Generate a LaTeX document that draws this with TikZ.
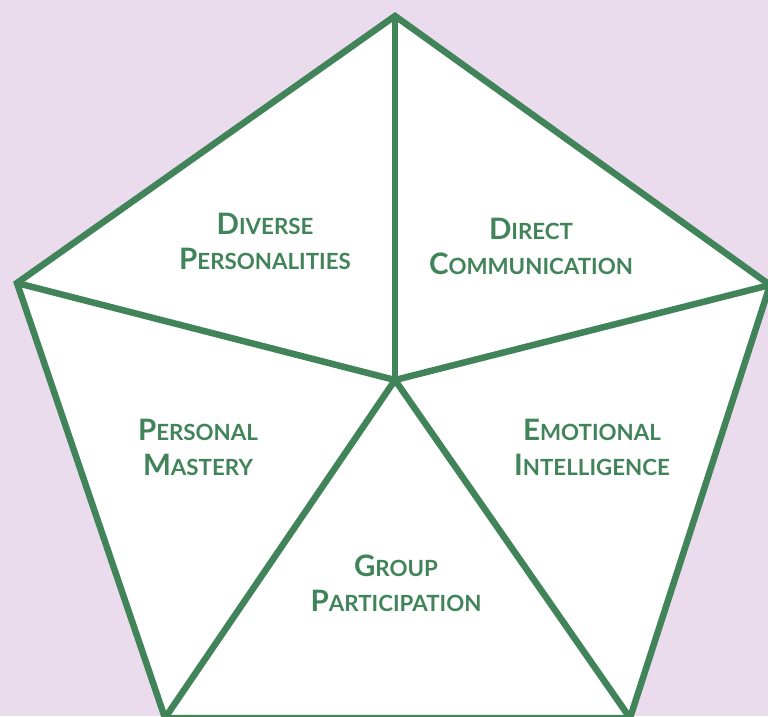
\documentclass[tikz,border=0pt]{standalone}
\usepackage{fontspec}
\setmainfont{Lato}
\definecolor{lavender}{HTML}{EADCEC}
\definecolor{leaf}{HTML}{41845A}
% hand-made small caps: large initial, smaller rest
\newcommand{\capword}[2]{{\fontsize{29.5}{35}\selectfont #1}{\fontsize{22.3}{35}\selectfont #2}}

\begin{document}
\begin{tikzpicture}[x=1pt, y=-1pt]
    \tikzstyle{edge} = [draw=leaf, line width=6.5pt, line join=miter]
    \tikzstyle{facet} = [text=leaf, align=center, font=\bfseries\fontsize{22.3}{35}\selectfont]

    \fill [lavender] (0,0) rectangle (768,716);
    \clip (0,0) rectangle (768,716);

    % corners of the pentagon and its middle
    \coordinate (hub) at (395,380);
    \coordinate (apex) at (395,16);
    \coordinate (east) at (770,285);
    \coordinate (se) at (630,718);
    \coordinate (sw) at (165,718);
    \coordinate (west) at (17,283);

    \fill [white] (apex) -- (east) -- (se) -- (sw) -- (west) -- cycle;
    \draw [edge] (apex) -- (east) -- (se) -- (sw) -- (west) -- cycle;
    \foreach \v in {apex, east, se, sw, west}
        \draw [edge] (hub) -- (\v);

    \node [facet] (diverse) at (265,241) {\capword{D}{IVERSE}\\\capword{P}{ERSONALITIES}};
    \node [facet] (direct) at (531,246) {\capword{D}{IRECT}\\\capword{C}{OMMUNICATION}};
    \node [facet] (mastery) at (198,447) {\capword{P}{ERSONAL}\\\capword{M}{ASTERY}};
    \node [facet] (emotional) at (592,447) {\capword{E}{MOTIONAL}\\\capword{I}{NTELLIGENCE}};
    \node [facet] (group) at (396,583) {\capword{G}{ROUP}\\\capword{P}{ARTICIPATION}};
\end{tikzpicture}
\end{document}
